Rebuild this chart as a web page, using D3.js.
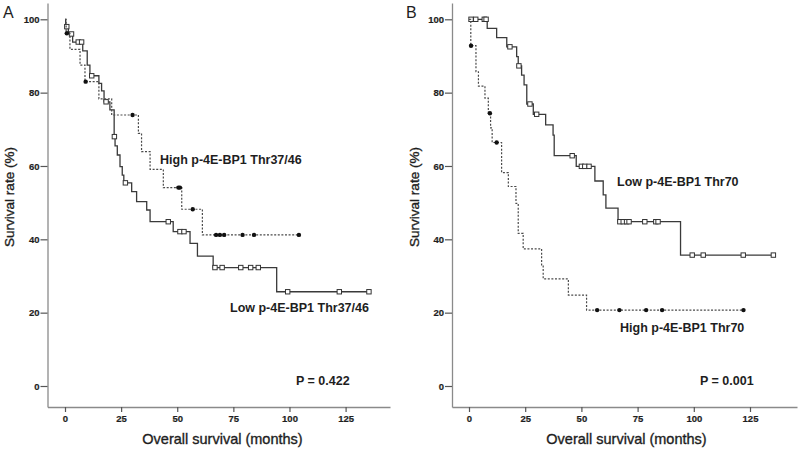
<!DOCTYPE html>
<html><head><meta charset="utf-8">
<script src="https://cdn.jsdelivr.net/npm/d3@7/dist/d3.min.js"></script>
<style>
body{margin:0;background:#fff;}
svg{display:block;font-family:"Liberation Sans",Arial,sans-serif;}
</style></head>
<body><svg id="c" width="800" height="451"></svg>
<script>
// ---------- DATA ----------
const yTicks = [0, 20, 40, 60, 80, 100];
const xTicks = [0, 25, 50, 75, 100, 125];

// Panel A – Low p-4E-BP1 Thr37/46 (solid, censored = squares)
const lowA_t = [0.3,1.5,3.4,7.9,9.9,11.1,15.1,16.3,17.4,20.0,21.9,22.3,23.3,24.5,25.5,26.2,29.7,31.9,36.4,37.9,48.2,55.7,59.0,66.0,94.3];
const lowA_s = [98,96,93.8,91.4,87.5,84.6,82.5,80.5,77.5,75.3,68,65.5,63,59.8,57.5,55.4,53,50.3,48,44.8,42.1,38.9,35.4,32.3,25.7];
const lowA_c = [0.8,2.9,5.9,7.4,11.9,18.3,22.0,26.9,46,51.2,53,66.8,70,78.3,82.7,86.1,99.2,122.2,135.4];

// Panel A – High p-4E-BP1 Thr37/46 (dashed, censored = dots)
const highA_t = [0.5,2.2,6.7,8.9,15.1,20.8,32.7,34.1,37.9,43.8,52.0,61.2];
const highA_s = [96.2,91.8,87.5,83,78.3,73.9,68.9,63.9,59.1,54.1,48.2,41.2];
const highA_c = [0.8,9.2,30.1,50.5,51.2,56.9,67.3,69,70.9,79.1,84.2,104.2];

// Panel B – Low p-4E-BP1 Thr70 (solid, squares)
const lowB_t = [8.1,12.3,16.8,21.2,21.9,23.4,24.5,25.7,28.6,34.1,37.4,37.9,47.7,56.0,59.7,60.9,66.3,94.1];
const lowB_s = [97.5,95.0,92.5,89.8,87.3,84.8,82.1,76.9,74.1,71.2,68.4,62.8,59.9,55.9,52.1,48.5,44.8,35.7];
const lowB_c = [0.9,3.0,6.8,7.6,18.2,22.2,27.1,30.1,45.9,50,51.5,53.4,67.1,68.6,70.1,71.2,78.2,83.1,84.1,99.3,104.2,122,135.4];

// Panel B – High p-4E-BP1 Thr70 (dashed, dots)
const highB_t = [0.8,3.1,4.2,7.1,8.6,9.6,10.3,14.5,17.5,20.9,21.9,24.1,32.3,33.0,44.2,52.3];
const highB_s = [92.8,85.7,81.8,78.5,74.4,70.4,66.4,58.2,54.4,49.8,41.6,37.4,33.0,29.2,24.8,20.7];
const highB_c = [0.9,9.3,12.3,57,66.9,78.8,85.9,122.1];

const panels = [
  {letter:"A", p:"P = 0.422",
   low:{t:lowA_t,s:lowA_s,c:lowA_c}, high:{t:highA_t,s:highA_s,c:highA_c},
   highLbl:"High p-4E-BP1 Thr37/46", lowLbl:"Low p-4E-BP1 Thr37/46"},
  {letter:"B", p:"P = 0.001",
   low:{t:lowB_t,s:lowB_s,c:lowB_c}, high:{t:highB_t,s:highB_s,c:highB_c},
   highLbl:"High p-4E-BP1 Thr70", lowLbl:"Low p-4E-BP1 Thr70"}
];

// ---------- LAYOUT ----------
const layout = {
  A:{axX:47.5, x0:65, x125:345.6, xEnd:390, highL:[160,164], lowL:[230,312], pL:[296,385], yT:[14,197], xT:222.5, L:[3,18]},
  B:{axX:452, x0:469, x125:750, xEnd:797, highL:[620,332], lowL:[617,186], pL:[700,385], yT:[419,197], xT:626.5, L:[406,18]}
};
const yTop = 3, yBot = 407, y0px = 386, y100px = 19.3;

const svg = d3.select("#c");
const txt = "#1e1e1e";

panels.forEach(P => {
  const L = layout[P.letter];
  const pxPerM = (L.x125 - L.x0) / 125;
  const x = d3.scaleLinear().domain([(L.axX - L.x0)/pxPerM, (L.xEnd - L.x0)/pxPerM]).range([L.axX, L.xEnd]);
  const pxPerV = (y0px - y100px) / 100;
  const y = d3.scaleLinear().domain([(y0px - yBot)/pxPerV, (y0px - yTop)/pxPerV]).range([yBot, yTop]);

  const g = svg.append("g");

  // axes
  const ya = g.append("g").attr("transform", `translate(${L.axX},0)`)
    .call(d3.axisLeft(y).tickValues(yTicks).tickSize(7).tickSizeOuter(0).tickPadding(1));
  const xa = g.append("g").attr("transform", `translate(0,${yBot})`)
    .call(d3.axisBottom(x).tickValues(xTicks).tickSize(5).tickSizeOuter(0).tickPadding(3));
  [ya, xa].forEach(a => {
    a.select(".domain").attr("stroke", "#8a8a8a").attr("stroke-width", 1.3);
    a.selectAll(".tick line").attr("stroke", "#555").attr("stroke-width", 1.2);
    a.selectAll(".tick text").attr("fill", txt).attr("font-size", 9.5).attr("font-weight", "bold")
      .attr("font-family", '"Liberation Sans",Arial,sans-serif')
      .attr("stroke", txt).attr("stroke-width", 0.2);
  });

  // curves
  function drawCurve(d, dashed) {
    const pts = [[0, 100]];
    d.t.forEach((t, i) => pts.push([t, d.s[i]]));
    const tEnd = Math.max(d3.max(d.c), d3.max(d.t));
    pts.push([tEnd, d.s[d.s.length - 1]]);
    const line = d3.line().x(p => x(p[0])).y(p => y(p[1])).curve(d3.curveStepAfter);
    g.append("path").attr("d", line(pts)).attr("fill", "none")
      .attr("stroke", dashed ? "#4a4a4a" : "#3a3a3a").attr("stroke-width", dashed ? 1.2 : 1.3)
      .attr("stroke-dasharray", dashed ? "2,1.6" : null);
    const level = t => { let v = 100; d.t.forEach((tt, i) => { if (tt <= t) v = d.s[i]; }); return v; };
    if (dashed) {
      g.selectAll(null).data(d.c).enter().append("circle")
        .attr("cx", c => x(c)).attr("cy", c => y(level(c))).attr("r", 2.2).attr("fill", "#111");
    } else {
      const sz = 4.4;
      g.selectAll(null).data(d.c).enter().append("rect")
        .attr("x", c => x(c) - sz/2).attr("y", c => y(level(c)) - sz/2)
        .attr("width", sz).attr("height", sz)
        .attr("fill", "#fff").attr("stroke", "#333").attr("stroke-width", 1);
    }
  }
  drawCurve(P.low, false);
  drawCurve(P.high, true);

  // texts
  const bold = (t, xy) => g.append("text").attr("x", xy[0]).attr("y", xy[1]).text(t)
    .attr("font-size", 12.5).attr("font-weight", "bold").attr("fill", txt);
  bold(P.highLbl, L.highL);
  bold(P.lowLbl, L.lowL);
  bold(P.p, L.pL);

  g.append("text").attr("x", L.L[0]).attr("y", L.L[1]).text(P.letter)
    .attr("font-size", 16).attr("fill", txt);
  g.append("text").attr("transform", `translate(${L.yT[0]},${L.yT[1]}) rotate(-90)`)
    .attr("text-anchor", "middle").text("Survival rate (%)")
    .attr("font-size", 13.5).attr("fill", txt).attr("stroke", txt).attr("stroke-width", 0.35);
  g.append("text").attr("x", L.xT).attr("y", 444).attr("text-anchor", "middle")
    .text("Overall survival (months)").attr("font-size", 14.5).attr("fill", txt)
    .attr("stroke", txt).attr("stroke-width", 0.35);
});
</script>
</body></html>
